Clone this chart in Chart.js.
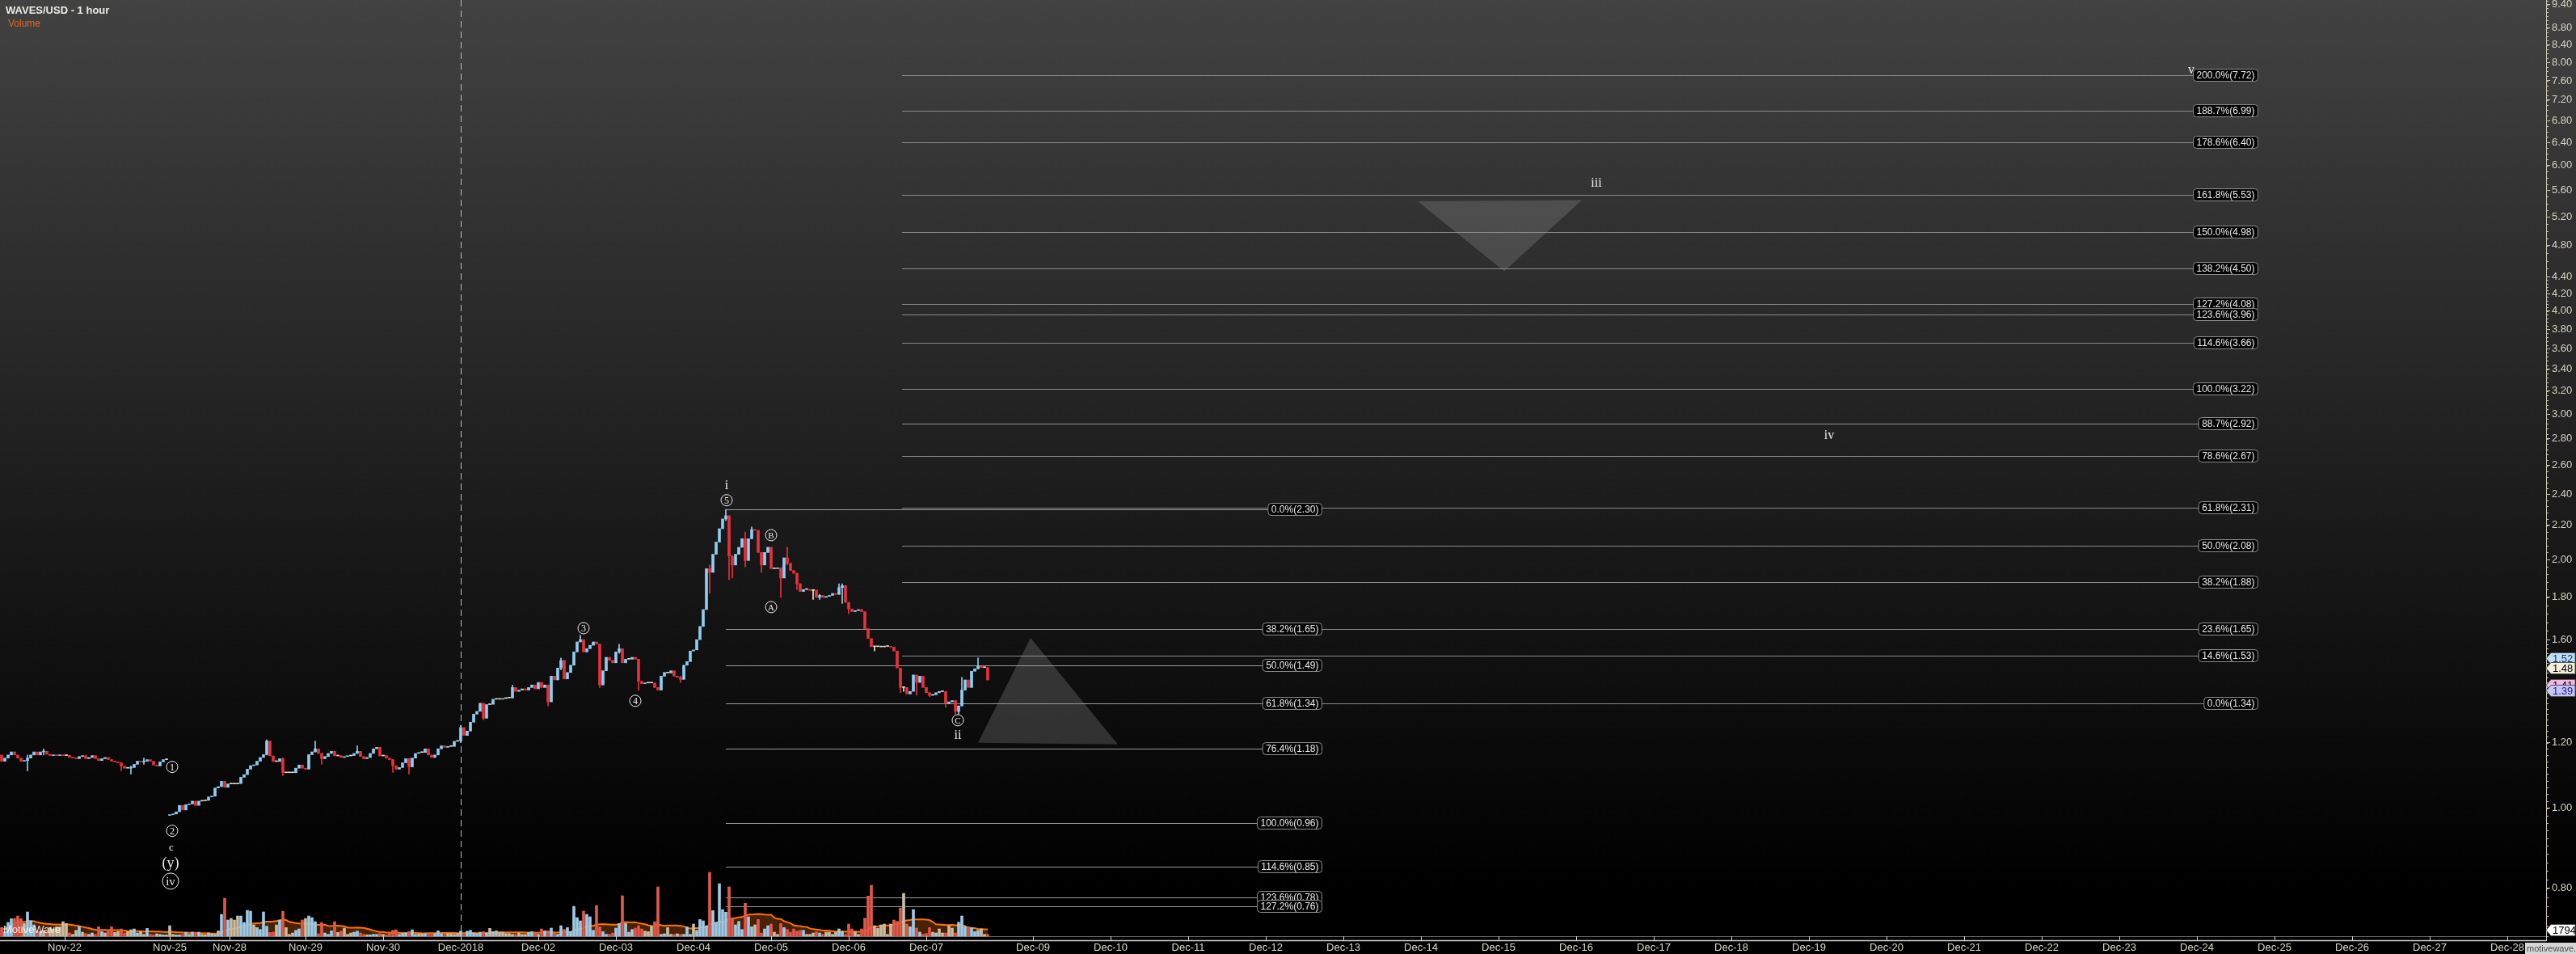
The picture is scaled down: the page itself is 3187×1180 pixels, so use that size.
<!DOCTYPE html>
<html>
<head>
<meta charset="utf-8">
<script src="https://cdn.jsdelivr.net/npm/chart.js@4.4.1/dist/chart.umd.min.js"></script>
<style>
  html, body { margin: 0; padding: 0; background: #000; }
  #wrap { width: 3187px; height: 1180px; }
</style>
</head>
<body>
<div id="wrap"><canvas id="chart" width="3187" height="1180"></canvas></div>
<script>
// hourly closes, one per bar (bar index = position on the x axis)
var closes = [
  1.14,1.15,1.16,1.17,1.16,1.15,1.14,1.142,1.15,1.16,
  1.17,1.16,1.17,1.172,1.162,1.158,1.16,1.158,1.16,1.158,
  1.159,1.152,1.15,1.148,1.155,1.158,1.148,1.152,1.158,1.148,
  1.142,1.148,1.152,1.145,1.14,1.138,1.135,1.125,1.118,1.118,
  1.12,1.13,1.14,1.138,1.14,1.145,1.14,1.128,1.125,1.138,
  1.145,1.145,
  0.982,0.984,0.99,1.008,0.995,1.01,1.012,1.02,
  1.008,1.02,1.021,1.022,1.032,1.034,1.058,1.062,1.078,1.06,
  1.07,1.071,1.07,1.071,1.09,1.098,1.115,1.126,1.128,1.14,
  1.152,1.161,1.206,1.157,1.139,1.139,1.148,1.104,1.104,1.105,
  1.104,1.118,1.128,1.118,1.115,1.161,1.17,1.18,1.165,1.148,
  1.155,1.165,1.172,1.157,1.158,1.152,1.155,1.157,1.158,1.165,
  1.172,1.155,1.148,1.152,1.165,1.18,1.185,1.157,1.158,1.15,
  1.145,1.126,1.115,1.12,1.135,1.148,1.122,1.15,1.165,1.168,
  1.168,1.18,1.16,1.152,1.16,1.18,1.19,1.185,1.188,1.188,
  1.205,1.206,1.252,1.225,1.24,1.271,1.3,1.31,1.34,1.285,
  1.335,1.336,1.355,1.356,1.355,1.358,1.36,1.36,1.4,1.385,
  1.39,1.395,1.39,1.4,1.41,1.395,1.42,1.4,1.41,1.345,
  1.445,1.43,1.478,1.51,1.434,1.46,1.49,1.546,1.59,1.6,
  1.546,1.56,1.575,1.59,1.58,1.41,1.467,1.523,1.51,1.5,
  1.546,1.56,1.5,1.515,1.515,1.523,1.515,1.425,1.415,1.418,
  1.42,1.418,1.4,1.39,1.445,1.46,1.458,1.467,1.445,1.44,
  1.432,1.49,1.505,1.55,1.555,1.6,1.66,1.74,1.95,1.93,
  2.03,2.1,2.18,2.24,2.26,2.02,1.97,2.03,2.07,2.12,
  1.995,2.12,2.175,2.17,2.04,1.97,2.04,2.07,1.95,1.95,
  1.955,1.9,2.01,1.98,1.94,1.925,1.87,1.83,1.84,1.84,
  1.835,1.837,1.8,1.81,1.8,1.805,1.81,1.82,1.815,1.85,
  1.86,1.775,1.743,1.73,1.735,1.74,1.73,1.65,1.605,1.569,
  1.569,1.57,1.568,1.57,1.57,1.567,1.55,1.478,1.4,1.4,
  1.375,1.385,1.45,1.42,1.445,1.4,1.38,1.37,1.372,1.38,
  1.385,1.384,1.34,1.345,1.35,1.31,1.33,1.39,1.43,1.4,
  1.465,1.475,1.485,1.48,1.48,1.43
];
// opens after a data gap (otherwise open = previous close)
var gapOpens = { 0: 1.16, 52: 0.98 };
// visible wicks: [bar, high, low]
var wicks = [
  [8,1.16,1.11],[13,1.18,1.16],[37,1.135,1.11],[40,1.125,1.10],[44,1.15,1.13],
  [82,1.21,1.16],[87,1.15,1.095],[97,1.206,1.17],[99,1.165,1.13],[110,1.19,1.165],
  [121,1.145,1.105],[126,1.148,1.10],[142,1.26,1.20],[149,1.34,1.28],[158,1.41,1.36],
  [169,1.41,1.33],[173,1.52,1.47],[179,1.62,1.59],[185,1.58,1.40],[191,1.58,1.54],
  [197,1.515,1.39],[210,1.445,1.42],[219,1.97,1.82],[224,2.30,2.23],[225,2.26,1.89],
  [226,2.02,1.90],[230,2.16,1.96],[232,2.19,2.12],[235,2.04,1.93],[241,1.955,1.80],
  [243,2.07,1.97],[246,1.925,1.84],[251,1.84,1.79],[253,1.815,1.79],[259,1.87,1.815],
  [260,1.87,1.77],[262,1.775,1.72],[270,1.57,1.55],[278,1.478,1.38],[279,1.40,1.385],
  [283,1.45,1.37],[287,1.38,1.365],[292,1.385,1.325],[295,1.35,1.30],[296,1.33,1.30],
  [297,1.44,1.33],[302,1.52,1.475],[305,1.48,1.43]
];
var volume = [
  2350,1250,3740,4770,4840,5500,4770,3450,6600,4180,
  3080,1390,1250,1610,1250,2350,1980,2570,2570,3960,
  3450,880,510,1610,2570,1100,730,510,880,510,
  2570,1250,880,1390,2570,1030,1250,1980,880,1250,
  1760,1980,880,1250,510,2130,510,370,660,510,
  370,370,2860,510,370,370,510,1100,510,1100,
  1100,1100,510,370,880,660,510,1470,5940,10340,
  4400,4840,4400,5500,5500,3740,7040,6820,3080,2350,
  1830,6600,2710,1030,1100,3080,4400,6820,2350,510,
  880,1610,1980,4400,4840,5500,5060,3960,660,3740,
  880,510,1470,3960,1030,1390,2200,510,880,1100,
  1390,880,510,370,370,510,510,730,510,370,
  880,1610,1760,510,730,880,1250,1760,510,660,
  660,730,660,510,660,1470,660,510,730,660,
  510,730,1390,510,1390,1610,880,660,1100,1250,
  880,2130,1250,1470,1100,1100,730,730,510,510,
  880,510,510,1030,1250,880,510,1980,1470,1470,
  2200,880,510,2860,1830,2350,1250,8140,5060,4180,
  6820,5940,5280,1610,8360,2570,1250,510,510,880,
  2200,3450,11000,3450,1100,1830,2200,2860,1980,1390,
  1250,2710,3960,13420,510,660,2350,510,510,660,
  510,510,2570,510,3300,1610,4550,4180,2860,17380,
  6970,3810,14300,7260,6530,13420,4770,3080,4030,1830,
  8950,5280,2570,3080,4550,880,1980,2860,3300,1100,
  510,3450,2350,1830,1100,1980,1390,1610,1610,510,
  510,880,1250,880,510,1100,1100,510,1100,1980,
  1250,510,3300,1980,1250,510,1980,4910,10930,13860,
  2860,2130,3080,3300,510,3300,4400,4030,7700,11660,
  3300,2570,7260,2200,1100,510,730,2350,1100,880,
  1980,880,880,2860,2200,880,3810,5500,2570,2570,
  2350,1250,1610,1980,510,510
];
var volLastLabel = 1794;

// x axis: bar index of each day label
var dayTicks = [19.5,52,70.5,94,118,142,166,190,214,238,262,286,
  319,343,367,391,415,439,463,487,511,535,559,583,607,631,655,679,703,727,751,775];
var dayLabels = ['Nov-22','Nov-25','Nov-28','Nov-29','Nov-30','Dec-2018','Dec-02','Dec-03','Dec-04','Dec-05','Dec-06','Dec-07',
  'Dec-09','Dec-10','Dec-11','Dec-12','Dec-13','Dec-14','Dec-15','Dec-16','Dec-17','Dec-18','Dec-19','Dec-20',
  'Dec-21','Dec-22','Dec-23','Dec-24','Dec-25','Dec-26','Dec-27','Dec-28'];
var priceTicks = [9.4,8.8,8.4,8.0,7.6,7.2,6.8,6.4,6.0,5.6,5.2,4.8,4.4,4.2,4.0,3.8,3.6,3.4,3.2,3.0,2.8,2.6,2.4,2.2,2.0,1.8,1.6,1.2,1.0,0.8];
var minorSteps = [[0.70,1.60,0.02],[1.60,4.40,0.04],[4.40,9.60,0.1]];

// fibonacci retracement of wave i, and extension from wave ii
var retrLabels = ['0.0%','38.2%','50.0%','61.8%','76.4%','100.0%','114.6%','123.6%','127.2%'];
var retrPrices = [2.30,1.65,1.49,1.34,1.18,0.96,0.85,0.78,0.76];
var retrSpan = [224, 408.25];
var extLabels = ['200.0%','188.7%','178.6%','161.8%','150.0%','138.2%','127.2%','123.6%','114.6%','100.0%','88.7%','78.6%','61.8%','50.0%','38.2%','23.6%','14.6%','0.0%'];
var extPrices = [7.72,6.99,6.40,5.53,4.98,4.50,4.08,3.96,3.66,3.22,2.92,2.67,2.31,2.08,1.88,1.65,1.53,1.34];
var extSpan = [278.5, 697.75];

// wave labels
var waveText  = ['i','5','3','4','B','A','C','ii','1','2','c','(y)','iv','iii','iv','v'];
var waveKind  = ['roman','circ','circ','circ','circ','circ','circ','roman','circ','circ','plain','plain','bigcirc','roman','roman','roman'];
var waveIdx   = [224.25,224.25,180,196,238,238,295.75,295.75,52.75,52.75,52.5,52.25,52.25,493.25,565.25,677.25];
var wavePrice = [2.457,2.36,1.652,1.349,2.141,1.752,1.278,1.224,1.122,0.939,0.895,0.856,0.816,5.71,2.826,7.82];

// target triangles
var triUpIdx = [318.25,302,345.25], triUpPrice = [1.608,1.20,1.195];
var triDownIdx = [438,488.75,464.75], triDownPrice = [5.43,5.45,4.47];

// right axis price tags
var tagPrices = [1.52,1.48,1.41,1.39];
var tagFill = ['#bfe0f4','#f3efdd','#f4b6e6','#c6c6f6'];
var tagText = ['#12306a','#000','#000','#1c1c78'];

var SANS = '"Liberation Sans", Arial, sans-serif';
var SERIF = '"Liberation Serif", "DejaVu Serif", serif';

// pick a narrow face for the date labels when it exists
var probe = document.createElement('canvas').getContext('2d');
probe.font = '15px "Liberation Sans Narrow", monospace';
var wNarrow = probe.measureText('Dec-2018').width;
probe.font = '15px monospace';
var hasNarrow = Math.abs(wNarrow - probe.measureText('Dec-2018').width) > 0.5;
var dateFont = hasNarrow ? { family: '"Liberation Sans Narrow"', size: 15 } : { family: SANS, size: 13 };
var markFont = hasNarrow ? '15px "Liberation Sans Narrow"' : '13px ' + SANS;

var opens = closes.map(function(c, i) { return gapOpens[i] !== undefined ? gapOpens[i] : closes[i - 1]; });
function dir(o, c, t) { var d = (c - o) / o; return d > t ? 1 : (d < -t ? -1 : 0); }
var candleColors = closes.map(function(c, i) {
  var d = dir(opens[i], c, 0.0015);
  return d > 0 ? '#8fcdf2' : (d < 0 ? '#e8313a' : '#e6e2c8');
});
var volColors = closes.map(function(c, i) {
  var d = dir(opens[i], c, 0.004);
  return d > 0 ? '#9ccae6' : (d < 0 ? '#e0584a' : '#c9bca0');
});
var maLen = 20;
var volMA = volume.map(function(v, i) {
  var s = volume.slice(Math.max(0, i - maLen + 1), i + 1);
  return s.reduce(function(a, b) { return a + b; }, 0) / s.length;
});

function fibLabel(ctx, text, right, y) {
  ctx.font = '12px ' + SANS;
  var w = ctx.measureText(text).width + 8;
  var x = right - w;
  ctx.beginPath();
  ctx.roundRect(x + 0.5, Math.round(y) - 7.5, w, 15, 4);
  ctx.fillStyle = '#050505';
  ctx.fill();
  ctx.strokeStyle = '#8c8c8c';
  ctx.lineWidth = 1;
  ctx.stroke();
  ctx.fillStyle = '#e8e8e8';
  ctx.textAlign = 'left';
  ctx.textBaseline = 'middle';
  ctx.fillText(text, x + 4.5, Math.round(y) + 0.5);
  return x;
}

var overlay = {
  id: 'overlay',
  beforeDraw: function(chart) {
    var ctx = chart.ctx;
    var g = ctx.createLinearGradient(0, 0, 0, chart.height);
    g.addColorStop(0, '#424242');
    g.addColorStop(0.55, '#1a1a1a');
    g.addColorStop(0.93, '#000');
    g.addColorStop(1, '#000');
    ctx.save();
    ctx.fillStyle = g;
    ctx.fillRect(0, 0, chart.width, chart.height);
    ctx.restore();
  },
  beforeDatasetsDraw: function(chart) {
    var ctx = chart.ctx, xs = chart.scales.x, ys = chart.scales.y, area = chart.chartArea;
    ctx.save();
    // dashed line at the start of December
    var xd = Math.round(xs.getPixelForValue(dayTicks[5])) + 0.5;
    ctx.setLineDash([8, 5]);
    ctx.strokeStyle = '#bdbdbd';
    ctx.lineWidth = 1;
    ctx.beginPath(); ctx.moveTo(xd, area.top); ctx.lineTo(xd, area.bottom); ctx.stroke();
    ctx.setLineDash([]);
    // volume base line
    ctx.strokeStyle = '#6a6a6a';
    var yb = Math.round(chart.scales.yv.getPixelForValue(0)) + 0.5;
    ctx.beginPath(); ctx.moveTo(area.left, yb); ctx.lineTo(area.right, yb); ctx.stroke();
    // extension lines
    ctx.strokeStyle = '#8a8a8a';
    ctx.lineWidth = 1.2;
    var x0 = xs.getPixelForValue(extSpan[0]), x1 = xs.getPixelForValue(extSpan[1]);
    extPrices.forEach(function(p) {
      var y = Math.round(ys.getPixelForValue(p)) + 0.5;
      ctx.beginPath(); ctx.moveTo(x0, y); ctx.lineTo(x1 - 60, y); ctx.stroke();
    });
    x0 = xs.getPixelForValue(retrSpan[0]); x1 = xs.getPixelForValue(retrSpan[1]);
    ctx.strokeStyle = '#9a9a9a';
    retrPrices.forEach(function(p) {
      var y = Math.round(ys.getPixelForValue(p)) + 0.5;
      ctx.beginPath(); ctx.moveTo(x0, y); ctx.lineTo(x1 - 50, y); ctx.stroke();
    });
    ctx.restore();
  },
  afterDatasetsDraw: function(chart) {
    var ctx = chart.ctx, xs = chart.scales.x, ys = chart.scales.y;
    ctx.save();
    // triangles
    ctx.fillStyle = 'rgba(150,150,150,0.28)';
    [[triUpIdx, triUpPrice], [triDownIdx, triDownPrice]].forEach(function(t) {
      ctx.beginPath();
      t[0].forEach(function(ix, k) {
        var px = xs.getPixelForValue(ix), py = ys.getPixelForValue(t[1][k]);
        if (k === 0) ctx.moveTo(px, py); else ctx.lineTo(px, py);
      });
      ctx.closePath();
      ctx.fill();
    });
    // fib labels
    var r = xs.getPixelForValue(extSpan[1]);
    extPrices.forEach(function(p, k) {
      fibLabel(ctx, extLabels[k] + '(' + p.toFixed(2) + ')', r, ys.getPixelForValue(p));
    });
    r = xs.getPixelForValue(retrSpan[1]);
    retrPrices.forEach(function(p, k) {
      fibLabel(ctx, retrLabels[k] + '(' + p.toFixed(2) + ')', r, ys.getPixelForValue(p));
    });
    // wave labels
    ctx.fillStyle = '#ececec';
    ctx.strokeStyle = '#ececec';
    ctx.lineWidth = 1;
    ctx.textAlign = 'center';
    ctx.textBaseline = 'middle';
    waveText.forEach(function(t, k) {
      var x = xs.getPixelForValue(waveIdx[k]), y = ys.getPixelForValue(wavePrice[k]);
      var kind = waveKind[k];
      if (kind === 'circ') {
        ctx.beginPath(); ctx.arc(x, y, 7, 0, Math.PI * 2); ctx.stroke();
        ctx.font = (/[A-C]/.test(t) ? '11px ' : '12px ') + SERIF;
        ctx.fillText(t, x, y + 1);
      } else if (kind === 'bigcirc') {
        ctx.beginPath(); ctx.arc(x, y, 10, 0, Math.PI * 2); ctx.stroke();
        ctx.font = '15px ' + SERIF;
        ctx.fillText(t, x, y + 1);
      } else if (kind === 'plain') {
        ctx.font = (t === 'c' ? '13px ' : '18px ') + SERIF;
        ctx.fillText(t, x, y);
      } else {
        ctx.font = '16px ' + SERIF;
        ctx.fillText(t, x, y);
      }
    });
    ctx.restore();
  },
  afterDraw: function(chart) {
    var ctx = chart.ctx, xs = chart.scales.x, ys = chart.scales.y, area = chart.chartArea;
    ctx.save();
    // x axis line and day ticks
    ctx.strokeStyle = '#d4d4d4';
    ctx.lineWidth = 1.5;
    ctx.beginPath(); ctx.moveTo(0, area.bottom + 0.5); ctx.lineTo(area.right, area.bottom + 0.5); ctx.stroke();
    ctx.lineWidth = 1;
    dayTicks.forEach(function(t) {
      var x = Math.round(xs.getPixelForValue(t)) + 0.5;
      ctx.beginPath(); ctx.moveTo(x, area.bottom - 5); ctx.lineTo(x, area.bottom); ctx.stroke();
    });
    // minor ticks on the price axis
    ctx.strokeStyle = '#c8c4b0';
    minorSteps.forEach(function(m) {
      for (var p = m[0]; p < m[1] - 1e-9; p += m[2]) {
        var y = Math.round(ys.getPixelForValue(p)) + 0.5;
        if (y < area.top || y > area.bottom) continue;
        ctx.beginPath(); ctx.moveTo(area.right, y); ctx.lineTo(area.right + 3, y); ctx.stroke();
      }
    });
    // price tags
    ctx.font = '13px ' + SANS;
    ctx.textBaseline = 'middle';
    ctx.textAlign = 'left';
    function tag(y, fill, color, text) {
      ctx.beginPath();
      ctx.moveTo(area.right, y);
      ctx.lineTo(area.right + 6, y - 7);
      ctx.lineTo(chart.width - 1, y - 7);
      ctx.lineTo(chart.width - 1, y + 7);
      ctx.lineTo(area.right + 6, y + 7);
      ctx.closePath();
      ctx.fillStyle = fill; ctx.fill();
      ctx.strokeStyle = '#555'; ctx.lineWidth = 1; ctx.stroke();
      ctx.fillStyle = color;
      ctx.fillText(text, area.right + 8, y + 1);
    }
    tagPrices.forEach(function(p, k) {
      tag(Math.round(ys.getPixelForValue(p)) + 0.5, tagFill[k], tagText[k], p.toFixed(2));
    });
    tag(Math.round(chart.scales.yv.getPixelForValue(volLastLabel)) + 0.5, '#ffffff', '#000', String(volLastLabel));
    // title and indicator name
    ctx.textBaseline = 'alphabetic';
    ctx.fillStyle = '#ebebe4';
    ctx.font = 'bold 13px ' + SANS;
    ctx.fillText('WAVES/USD - 1 hour', 7, 17);
    ctx.fillStyle = '#dc6a1c';
    ctx.font = '12px ' + SANS;
    ctx.fillText('Volume', 10, 33);
    // watermarks
    ctx.fillStyle = 'rgba(255,255,255,0.85)';
    ctx.font = markFont;
    ctx.fillText('MotiveWave', 4, 1154);
    ctx.fillStyle = '#d6d6d6';
    ctx.fillRect(3124, 1166, 63, 14);
    ctx.fillStyle = '#4a4a4a';
    ctx.font = '11px ' + SANS;
    ctx.fillText('motivewave.com', 3126, 1177);
    ctx.restore();
  }
};

var ctx = document.getElementById('chart').getContext('2d');
var chart = new Chart(ctx, {
  type: 'bar',
  data: {
    datasets: [
      {
        type: 'bar',
        label: 'body',
        data: closes.map(function(c, i) { return { x: i, y: [opens[i], c] }; }),
        backgroundColor: candleColors,
        barThickness: 3,
        minBarLength: 1,
        grouped: false,
        yAxisID: 'y',
        order: 1
      },
      {
        type: 'bar',
        label: 'wick',
        data: wicks.map(function(w) { return { x: w[0], y: [w[2], w[1]] }; }),
        backgroundColor: wicks.map(function(w) { return candleColors[w[0]]; }),
        barThickness: 1,
        grouped: false,
        yAxisID: 'y',
        order: 2
      },
      {
        type: 'bar',
        label: 'volume',
        data: volume.map(function(v, i) { return { x: i, y: v }; }),
        backgroundColor: volColors,
        barThickness: 3,
        grouped: false,
        yAxisID: 'yv',
        order: 3
      },
      {
        type: 'line',
        label: 'volume MA',
        data: volMA.map(function(v, i) { return { x: i, y: v }; }),
        borderColor: '#ff7400',
        borderWidth: 2,
        backgroundColor: 'rgba(78,36,6,0.92)',
        fill: { value: 0 },
        pointRadius: 0,
        tension: 0,
        yAxisID: 'yv',
        order: 4
      }
    ]
  },
  options: {
    responsive: false,
    animation: false,
    events: [],
    layout: { padding: 0 },
    plugins: { legend: { display: false }, tooltip: { enabled: false } },
    scales: {
      x: {
        type: 'linear',
        min: -0.5,
        max: 787,
        bounds: 'data',
        offset: false,
        afterBuildTicks: function(s) { s.ticks = dayTicks.map(function(v) { return { value: v }; }); },
        afterFit: function(s) { s.height = 17; s.paddingLeft = 0; s.paddingRight = 0; },
        ticks: {
          autoSkip: false,
          maxRotation: 0,
          padding: 2,
          color: '#dedac2',
          font: dateFont,
          callback: function(v, i) { return dayLabels[i]; }
        },
        grid: { display: false, drawTicks: false },
        border: { display: false }
      },
      y: {
        type: 'logarithmic',
        position: 'right',
        min: 0.692,
        max: 9.52,
        bounds: 'data',
        beginAtZero: false,
        afterBuildTicks: function(s) { s.ticks = priceTicks.map(function(v) { return { value: v }; }); },
        afterFit: function(s) { s.width = 37; s.paddingTop = 0; s.paddingBottom = 0; },
        ticks: {
          autoSkip: false,
          padding: 2,
          color: '#d6d2bf',
          font: { family: SANS, size: 13 },
          callback: function(v) { return Number(v).toFixed(2); }
        },
        grid: { drawOnChartArea: false, drawTicks: true, tickLength: 5, color: '#c8c4b0' },
        border: { display: true, color: '#c8c4b0' }
      },
      yv: {
        type: 'linear',
        display: false,
        bounds: 'data',
        min: -1100,
        max: 254760
      }
    }
  },
  plugins: [overlay]
});
</script>
</body>
</html>
